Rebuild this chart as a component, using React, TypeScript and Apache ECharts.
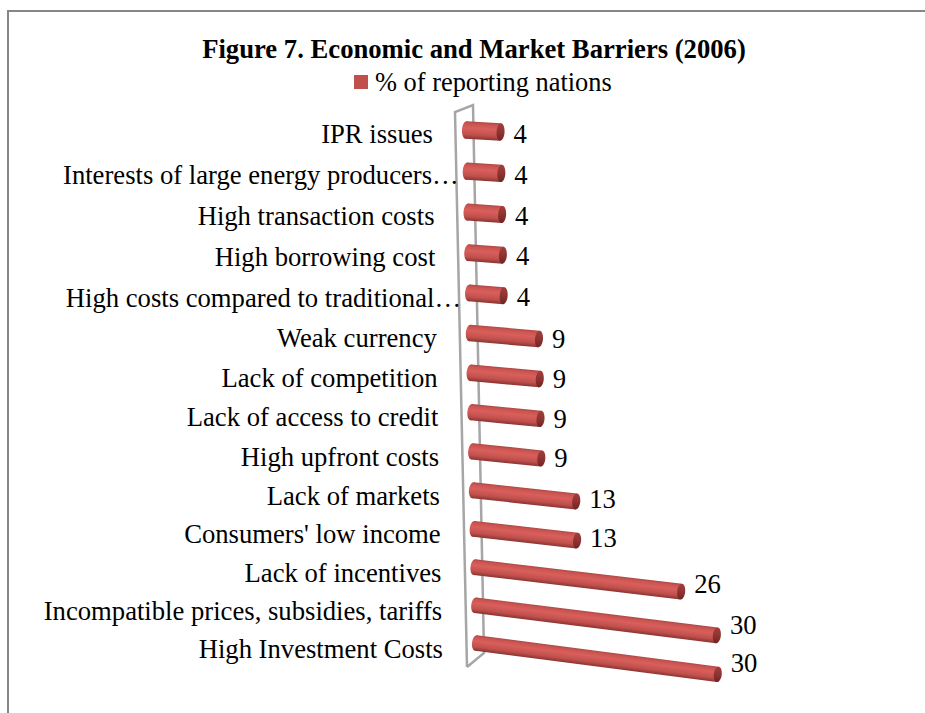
import React, { useEffect, useRef } from "react";
import * as echarts from "echarts";

const TITLE = "Figure 7. Economic and Market Barriers (2006)";
const SERIES_NAME = "% of reporting nations";
const categories = [
  "IPR issues",
  "Interests of large energy producers…",
  "High transaction costs",
  "High borrowing cost",
  "High costs compared to traditional…",
  "Weak currency",
  "Lack of competition",
  "Lack of access to credit",
  "High upfront costs",
  "Lack of markets",
  "Consumers' low income",
  "Lack of incentives",
  "Incompatible prices, subsidies, tariffs",
  "High Investment Costs",
];
// values; the printed labels are these rounded to whole numbers
const values = [4.35, 4.35, 4.35, 4.35, 4.35, 8.7, 8.7, 8.7, 8.7, 13, 13, 26, 30.4, 30.4];

const FONT = "'Liberation Serif', 'Times New Roman', serif";
const N = categories.length;
const RED = "#c0504d";

function renderBar(params: any, api: any) {
  const i = api.value(1) as number;
  const v = api.value(0) as number;
  const t = i / (N - 1);
  const base = api.coord([0, i]);
  const tip = api.coord([v, i]);
  const len = tip[0] - base[0];
  // oblique projection of the plot, as in the 3-D original
  const sx = base[0] + i * 0.77;
  const sy = base[1] + 24 * t * (1 - t);
  const slope = 0.06 + 0.07 * t;
  const h = 17.5 - 2 * t;
  const rx = 4;
  const angle = Math.atan(slope);
  const body = new echarts.graphic.LinearGradient(0, 0, 0, 1, [
    { offset: 0, color: "#ad4845" },
    { offset: 0.14, color: "#cb5551" },
    { offset: 0.38, color: "#d95f5b" },
    { offset: 0.75, color: "#c0504d" },
    { offset: 1, color: "#8a3432" },
  ]);
  const cap = new echarts.graphic.LinearGradient(0, 0, 0, 1, [
    { offset: 0, color: "#a03f3d" },
    { offset: 0.5, color: "#8e3432" },
    { offset: 1, color: "#702523" },
  ]);
  const truncated = categories[i].endsWith("…");
  const labelRight = 433 + i * 0.77 + (truncated ? 25 : 0);
  return {
    type: "group",
    children: [
      {
        type: "group",
        x: sx,
        y: sy,
        rotation: -angle,
        children: [
          { type: "ellipse", shape: { cx: 0, cy: 0, rx, ry: h / 2 }, style: { fill: body } },
          { type: "rect", shape: { x: 0, y: -h / 2, width: len / Math.cos(angle), height: h }, style: { fill: body } },
          { type: "ellipse", shape: { cx: len / Math.cos(angle), cy: 0, rx, ry: h / 2 }, style: { fill: cap } },
        ],
      },
      {
        type: "text",
        style: {
          text: categories[i],
          x: labelRight,
          y: sy + 4 + 2 * t,
          align: "right",
          verticalAlign: "middle",
          fontFamily: FONT,
          fontSize: 26.67,
          fill: "#000",
        },
      },
      {
        type: "text",
        style: {
          text: String(Math.round(v)),
          x: sx + len + rx + 9,
          y: sy + 1 + len * 0.078,
          align: "left",
          verticalAlign: "middle",
          fontFamily: FONT,
          fontSize: 26.67,
          fill: "#000",
        },
      },
    ],
  };
}

export default function App() {
  const ref = useRef<HTMLDivElement>(null);
  useEffect(() => {
    const chart = echarts.init(ref.current!, null, { renderer: "svg" });
    chart.setOption({
      animation: false,
      backgroundColor: "#fff",
      title: {
        text: TITLE,
        left: 469,
        top: 30,
        textAlign: "center",
        textStyle: { fontFamily: FONT, fontWeight: "bold", fontSize: 26.67, color: "#000" },
      },
      legend: {
        data: [SERIES_NAME],
        left: 349,
        top: 64,
        icon: "rect",
        itemWidth: 14,
        itemHeight: 14,
        textStyle: { fontFamily: FONT, fontSize: 26.4, color: "#000", padding: [0, 0, 0, 2] },
      },
      grid: { left: 466, top: 110.27, width: 238.5, height: 552.4 },
      xAxis: { type: "value", min: 0, max: 30, show: false },
      yAxis: { type: "category", data: categories, inverse: true, show: false },
      graphic: [
        {
          type: "polyline",
          z: 0,
          shape: { points: [[8, 713], [8, 11], [925, 11]] },
          style: { stroke: "#868686", lineWidth: 2, fill: "none" },
        },
        {
          type: "polyline",
          z: 0,
          shape: { points: [[467, 667], [455, 112], [473, 105], [484, 653], [467, 667]] },
          style: { stroke: "#a6a6a6", lineWidth: 2.5, fill: "none" },
        },
      ],
      series: [
        {
          type: "custom",
          name: SERIES_NAME,
          z: 2,
          clip: false,
          itemStyle: { color: RED },
          renderItem: renderBar,
          encode: { x: 0, y: 1 },
          data: values.map((v, i) => [v, i]),
        },
      ],
    });
    return () => chart.dispose();
  }, []);
  return <div ref={ref} style={{ position: "absolute", left: 0, top: 0, width: 925, height: 713 }} />;
}
